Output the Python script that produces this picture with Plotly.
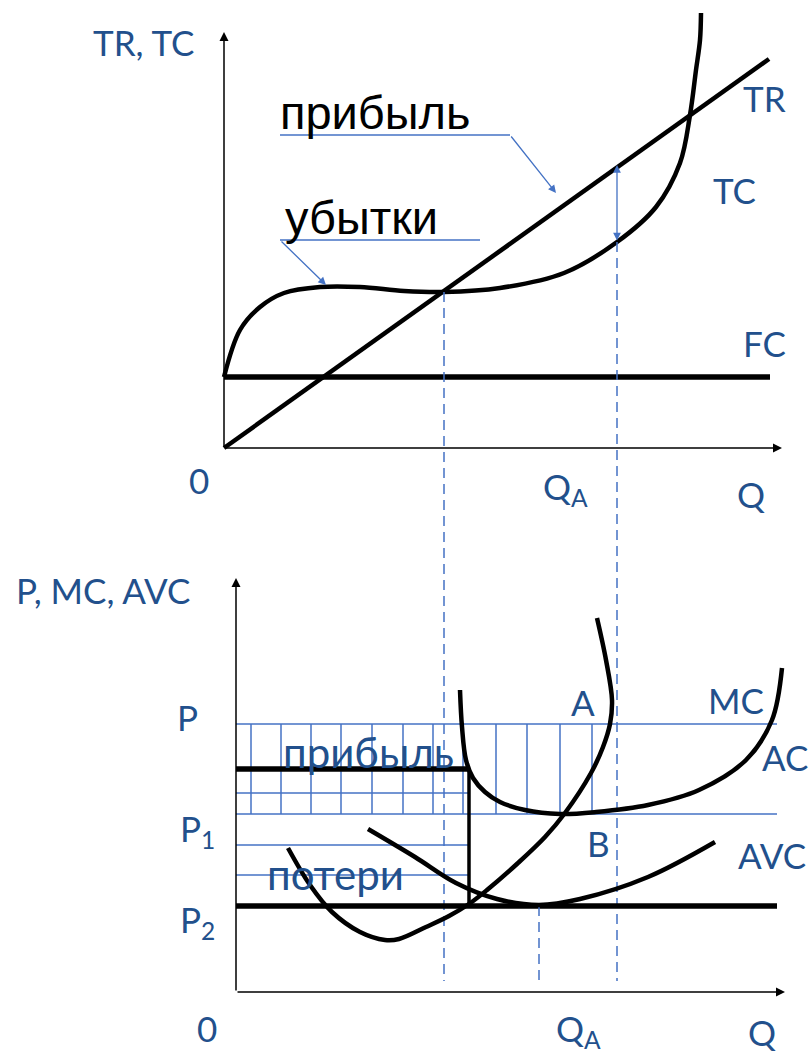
import plotly.graph_objects as go

# ---------------- data (units: 1 = 10 px of original drawing) ----------------
# Top panel: TR, TC, FC vs Q
tr_q = [0.0, 54.5]
tr_v = [0.0, 38.9]
tc_q = [0.0, 1.6, 3.6, 6.0, 9.6, 13.6, 18.0, 22.0, 27.6, 34.0, 39.3, 43.2, 45.6, 46.6, 47.2, 47.6, 47.7]
tc_v = [7.1, 11.8, 14.1, 15.5, 16.1, 16.1, 15.7, 15.6, 16.0, 17.5, 20.6, 24.1, 28.5, 33.3, 37.8, 40.8, 43.5]
fc_q = [0.0, 54.6]
fc_v = [7.1, 7.1]
q_break_even = 22.0
q_profit = 39.3
tr_at_profit = 28.3
tc_at_profit = 20.6
dash_bottom = -53.3
profit_leader_q = [5.6, 28.6, 33.2]
profit_leader_v = [31.3, 31.3, 25.5]
loss_leader_q = [25.6, 5.6, 10.2]
loss_leader_v = [20.8, 20.8, 16.3]
top_axis_q = [0.0, 55.8]
top_axis_v = [0.0, 41.6]

# Bottom panel: prices and unit costs
p_level = 26.8
p1_level = 17.8
p2_level = 8.6
p_short = 22.3
short_blue_levels = [19.9, 14.7, 11.7]
q_max_line = 54.1
q_short = 23.3
hatch_q = [1.5, 4.5, 7.5, 10.5, 13.6, 16.7, 19.7, 22.7, 26.0, 29.1, 32.4, 35.6]
mc_q = [5.2, 7.4, 9.6, 12.4, 14.9, 16.3, 19.0, 21.3, 23.3, 25.1, 28.2, 30.9, 32.9, 35.5, 36.7, 37.4, 37.6, 37.0, 36.1]
mc_v = [14.4, 10.7, 8.0, 6.0, 5.2, 5.3, 6.5, 7.6, 8.8, 10.2, 12.9, 15.5, 17.9, 21.9, 24.5, 26.8, 29.2, 33.2, 37.4]
ac_q = [22.4, 22.6, 23.0, 23.7, 24.9, 26.4, 28.9, 32.4, 36.0, 41.2, 46.3, 51.0, 53.6, 54.6]
ac_v = [30.2, 26.5, 23.2, 21.4, 20.0, 19.0, 18.2, 17.8, 18.0, 18.7, 20.2, 23.2, 27.2, 32.4]
avc_q = [13.2, 17.9, 22.0, 26.1, 30.3, 34.4, 41.2, 47.9]
avc_v = [16.3, 13.5, 10.9, 9.3, 8.7, 9.3, 11.5, 15.0]
q_avc_min = 30.3
dash_bottom2 = 1.1
bottom_axis_q = [0.0, 54.9]
bottom_axis_v = [0.0, 41.4]

BLUE_LINE = "#4472C4"
BLUE_TEXT = "#22508C"
BLUE_FONT = "Lato"
LAT = 35   # latin blue labels
CYR = 42   # cyrillic blue labels

fig = go.Figure()

def line(x, y, color="black", width=4.5, dash=None, ax="x", ay="y", shape="linear"):
    fig.add_trace(go.Scatter(x=x, y=y, mode="lines", xaxis=ax, yaxis=ay,
                             line=dict(color=color, width=width, dash=dash, shape=shape),
                             hoverinfo="skip", showlegend=False))

ann = []

def arrow(x0, y0, x1, y1, color="black", width=1.5, head=2, size=1.2, xr="x", yr="y", side="end"):
    ann.append(dict(x=x1, y=y1, ax=x0, ay=y0, xref=xr, yref=yr, axref=xr, ayref=yr,
                    showarrow=True, arrowhead=head, arrowsize=size, arrowwidth=width,
                    arrowcolor=color, arrowside=side, startarrowhead=head, startarrowsize=size,
                    standoff=0, startstandoff=0, text=""))

def label(text, x, y, size=LAT, color=BLUE_TEXT, font=BLUE_FONT, xr="x", yr="y"):
    ann.append(dict(x=x, y=y, xref=xr, yref=yr, text=text, showarrow=False,
                    xanchor="center", yanchor="middle",
                    font=dict(size=size, color=color, family=font)))

# ---------- top panel ----------
line(fc_q, fc_v, width=5.5)
line(tr_q, tr_v, width=4.5)
line(tc_q, tc_v, width=4.5, shape="spline")
line([q_break_even, q_break_even], [tc_v[7], dash_bottom], color=BLUE_LINE, width=1.5, dash="10px,6px")
line([q_profit, q_profit], [tc_at_profit, dash_bottom], color=BLUE_LINE, width=1.5, dash="10px,6px")
line(profit_leader_q[:2], profit_leader_v[:2], color=BLUE_LINE, width=1.5)
line(loss_leader_q[:2], loss_leader_v[:2], color=BLUE_LINE, width=1.5)
arrow(profit_leader_q[1], profit_leader_v[1], profit_leader_q[2], profit_leader_v[2], color=BLUE_LINE, width=1.3)
arrow(loss_leader_q[1], loss_leader_v[1], loss_leader_q[2], loss_leader_v[2], color=BLUE_LINE, width=1.3)
arrow(q_profit, tc_at_profit, q_profit, tr_at_profit, color=BLUE_LINE, width=1.3, side="end+start")
arrow(top_axis_q[0], top_axis_v[0], top_axis_q[0], top_axis_v[1])
arrow(top_axis_q[0], top_axis_v[0], top_axis_q[1], top_axis_v[0])

# ---------- bottom panel ----------
hx, hy = [], []
for q in hatch_q:
    hx += [q, q, None]
    hy += [p_level, p1_level, None]
line(hx, hy, color=BLUE_LINE, width=1.5, ax="x2", ay="y2")
line([0, q_max_line], [p_level, p_level], color=BLUE_LINE, width=1.5, ax="x2", ay="y2")
line([0, q_max_line], [p1_level, p1_level], color=BLUE_LINE, width=1.5, ax="x2", ay="y2")
bx, by = [], []
for lv in short_blue_levels:
    bx += [0, q_short, None]
    by += [lv, lv, None]
line(bx, by, color=BLUE_LINE, width=1.5, ax="x2", ay="y2")
line([0, q_short], [p_short, p_short], width=5.5, ax="x2", ay="y2")
line([q_short, q_short], [p_short, p2_level], width=3.5, ax="x2", ay="y2")
line([0, q_max_line], [p2_level, p2_level], width=5.5, ax="x2", ay="y2")
line([q_avc_min, q_avc_min], [p2_level, dash_bottom2], color=BLUE_LINE, width=1.5, dash="10px,6px", ax="x2", ay="y2")
line(mc_q, mc_v, width=4.5, ax="x2", ay="y2", shape="spline")
line(ac_q, ac_v, width=4.5, ax="x2", ay="y2", shape="spline")
line(avc_q, avc_v, width=4.5, ax="x2", ay="y2", shape="spline")
arrow(bottom_axis_q[0], bottom_axis_v[0], bottom_axis_q[0], bottom_axis_v[1], xr="x2", yr="y2")
arrow(bottom_axis_q[0], bottom_axis_v[0], bottom_axis_q[1], bottom_axis_v[0], xr="x2", yr="y2")

# top labels
label("TR, TC", -8.1, 40.6)
label("TR", 54.0, 35.0)
label("TC", 51.0, 25.8)
label("FC", 54.0, 10.5)
label("0", -2.5, -3.2)
label("Q<sub>A</sub>", 34.1, -4.0)
label("Q", 52.7, -4.6)
label("прибыль", 15.1, 33.6, size=47, color="black", font="Liberation Sans")
label("убытки", 13.7, 23.1, size=47, color="black", font="Liberation Sans")

# bottom labels
B = dict(xr="x2", yr="y2")
label("P, MC, AVC", -13.3, 40.2, **B)
label("P", -4.9, 27.5, **B)
label("P<sub>1</sub>", -3.9, 16.2, **B)
label("P<sub>2</sub>", -3.9, 7.1, **B)
label("0", -2.9, -3.6, **B)
label("Q<sub>A</sub>", 34.2, -3.8, **B)
label("Q", 52.6, -4.0, **B)
label("A", 34.7, 29.0, **B)
label("MC", 50.0, 29.2, **B)
label("AC", 54.9, 23.5, **B)
label("B", 36.2, 14.9, **B)
label("AVC", 53.6, 13.7, **B)
label("прибыль", 13.2, 24.0, size=CYR, **B)
label("потери", 9.9, 11.8, size=CYR, **B)

W, H = 809, 1053
ax_common = dict(visible=False, showgrid=False, zeroline=False, domain=[0, 1])
fig.update_layout(
    width=W, height=H, margin=dict(l=0, r=0, t=0, b=0),
    paper_bgcolor="white", plot_bgcolor="rgba(0,0,0,0)",
    xaxis=dict(range=[-22.4, 58.5], anchor="y", **ax_common),
    yaxis=dict(range=[-60.5, 44.8], anchor="x", **ax_common),
    xaxis2=dict(range=[-23.6, 57.3], anchor="y2", **ax_common),
    yaxis2=dict(range=[-6.1, 99.2], anchor="x2", **ax_common),
    annotations=ann,
    showlegend=False,
)
fig.write_html("out.html", config={"displayModeBar": False},
               post_script="document.body.style.margin='0';document.body.style.overflow='hidden';")
